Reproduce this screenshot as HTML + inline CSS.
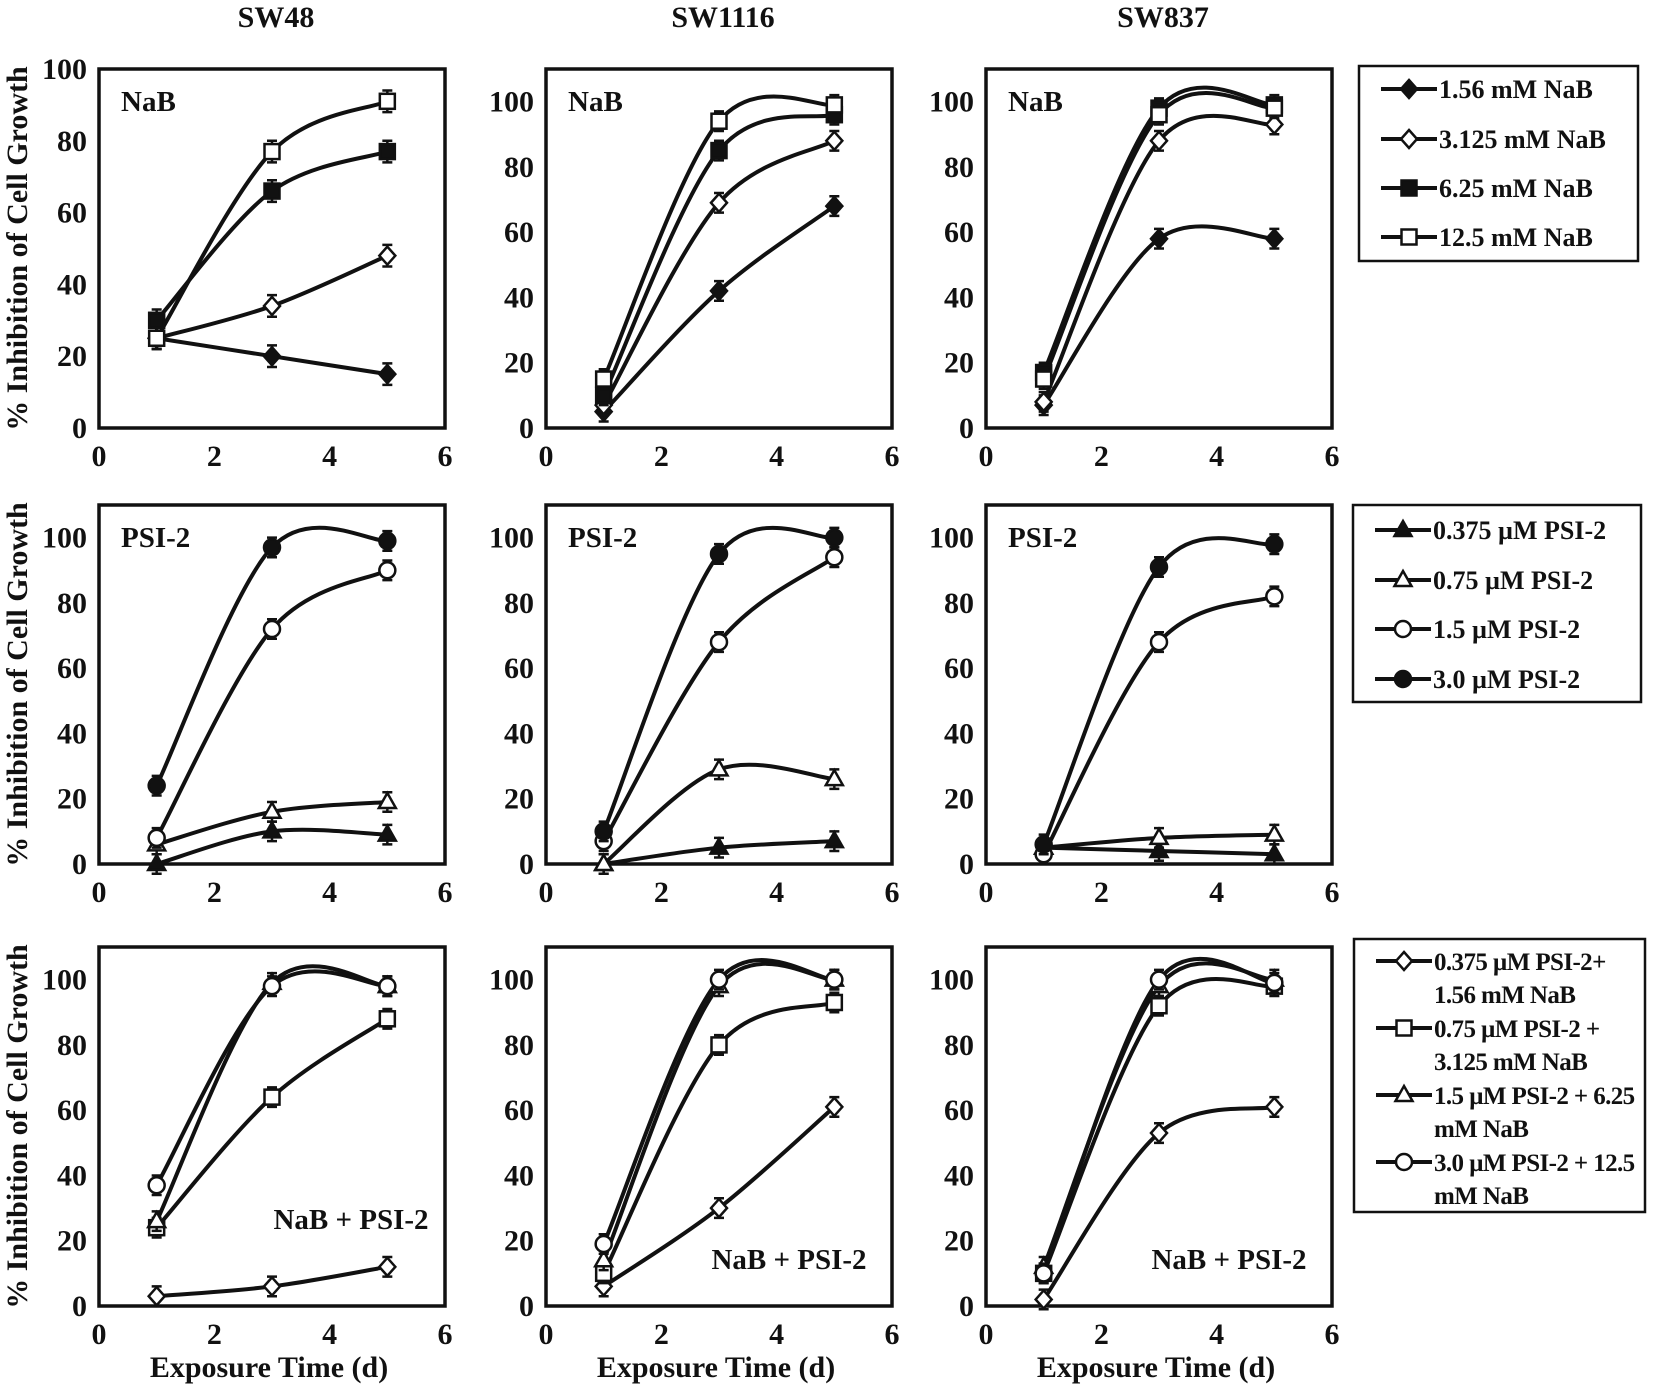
<!DOCTYPE html>
<html><head><meta charset="utf-8"><style>
body{margin:0;background:#fff}
svg text{font-family:"Liberation Serif",serif;font-weight:bold;fill:#111}
</style></head><body>
<svg id="fig" width="1654" height="1387" viewBox="0 0 1654 1387" xmlns="http://www.w3.org/2000/svg"></svg>
<script>
const days = [1, 3, 5];
const xTicks = [0, 2, 4, 6];
const yTicks = [0, 20, 40, 60, 80, 100];
const cellLines = ["SW48", "SW1116", "SW837"];
const nabLabels = ["1.56 mM NaB", "3.125 mM NaB", "6.25 mM NaB", "12.5 mM NaB"];
const psiLabels = ["0.375 µM PSI-2", "0.75 µM PSI-2", "1.5 µM PSI-2", "3.0 µM PSI-2"];
const comboLabels = [["0.375 µM PSI-2+", "1.56 mM NaB"], ["0.75 µM PSI-2 +", "3.125 mM NaB"], ["1.5 µM PSI-2 + 6.25", "mM NaB"], ["3.0 µM PSI-2 + 12.5", "mM NaB"]];
// NaB row
const sw48Nab = [[25, 20, 15], [25, 34, 48], [30, 66, 77], [25, 77, 91]];
const sw1116Nab = [[5, 42, 68], [7, 69, 88], [10, 85, 96], [15, 94, 99]];
const sw837Nab = [[7, 58, 58], [8, 88, 93], [17, 98, 99], [15, 96, 98]];
// PSI-2 row
const sw48Psi = [[0, 10, 9], [6, 16, 19], [8, 72, 90], [24, 97, 99]];
const sw1116Psi = [[0, 5, 7], [0, 29, 26], [7, 68, 94], [10, 95, 100]];
const sw837Psi = [[5, 4, 3], [5, 8, 9], [3, 68, 82], [6, 91, 98]];
// Combination row
const sw48Combo = [[3, 6, 12], [24, 64, 88], [26, 99, 98], [37, 98, 98]];
const sw1116Combo = [[6, 30, 61], [10, 80, 93], [14, 98, 100], [19, 100, 100]];
const sw837Combo = [[2, 53, 61], [10, 92, 98], [12, 98, 100], [10, 100, 99]];
const yMaxes = [[100, 110, 110], [110, 110, 110], [110, 110, 110]];

const NS = "http://www.w3.org/2000/svg";
const svg = document.getElementById("fig");
function mk(tag, attrs, parent) {
  const e = document.createElementNS(NS, tag);
  for (const k in attrs) e.setAttribute(k, attrs[k]);
  (parent || svg).appendChild(e);
  return e;
}
function txt(s, x, y, size, anchor, parent) {
  const t = mk("text", {x: x, y: y, "font-size": size, "text-anchor": anchor || "start"}, parent);
  t.textContent = s;
  return t;
}
const colL = [99, 546, 986], W = 346;
const rowT = [69, 505, 947], H = 359;
const rowData = [[sw48Nab, sw1116Nab, sw837Nab], [sw48Psi, sw1116Psi, sw837Psi], [sw48Combo, sw1116Combo, sw837Combo]];
const rowMarkers = [["dF", "dO", "sF", "sO"], ["tF", "tO", "cO", "cF"], ["dO", "sO", "tO", "cO"]];

function marker(kind, x, y, g) {
  const fill = kind[1] === "F" ? "#111" : "#fff";
  const st = {fill: fill, stroke: "#111", "stroke-width": 2.5};
  let m;
  if (kind[0] === "d") m = mk("polygon", Object.assign({points: `${x},${y-9} ${x+8},${y} ${x},${y+9} ${x-8},${y}`}, st), g);
  else if (kind[0] === "s") m = mk("rect", Object.assign({x: x-7.5, y: y-7.5, width: 15, height: 15}, st), g);
  else if (kind[0] === "t") m = mk("polygon", Object.assign({points: `${x},${y-9} ${x+8.5},${y+6} ${x-8.5},${y+6}`}, st), g);
  else m = mk("circle", Object.assign({cx: x, cy: y, r: 8}, st), g);
  return m;
}
function smoothPath(pts) {
  let d = `M${pts[0][0]},${pts[0][1]}`;
  for (let i = 0; i < pts.length - 1; i++) {
    const p0 = pts[i - 1] || pts[i], p1 = pts[i], p2 = pts[i + 1], p3 = pts[i + 2] || pts[i + 1];
    const c1 = [p1[0] + (p2[0] - p0[0]) / 6, p1[1] + (p2[1] - p0[1]) / 6];
    const c2 = [p2[0] - (p3[0] - p1[0]) / 6, p2[1] - (p3[1] - p1[1]) / 6];
    d += ` C${c1[0]},${c1[1]} ${c2[0]},${c2[1]} ${p2[0]},${p2[1]}`;
  }
  return d;
}

cellLines.forEach((c, i) => {
  const t = txt(c, colL[i] + W / 2 + 4, 27, 30, "middle");
  
  
});

for (let r = 0; r < 3; r++) {
  const cy = rowT[r] + H / 2;
  const yt = txt("% Inhibition of Cell Growth", 0, 0, 30, "middle");
  yt.setAttribute("transform", `translate(27,${cy}) rotate(-90)`);
  
  
  for (let c = 0; c < 3; c++) {
    const g = mk("g", {});
    
    
    const L = colL[c], T = rowT[r], yMax = yMaxes[r][c];
    const sx = v => L + v / 6 * W;
    const sy = v => T + H - v / yMax * H;
    mk("rect", {x: L, y: T, width: W, height: H, fill: "none", stroke: "#111", "stroke-width": 3.5}, g);
    yTicks.forEach(v => {
      const t = txt(String(v), L - 12, sy(v) + 10, 30, "end", g);
      
      
    });
    xTicks.forEach(v => {
      const t = txt(String(v), sx(v), T + H + 38, 30, "middle", g);
      
      
    });
    if (r < 2) {
      const lab = txt(r === 0 ? "NaB" : "PSI-2", L + 22, T + 42, 29, "start", g);
      
      
    } else {
      const lab = txt("NaB + PSI-2", c === 0 ? L + 252 : L + 243, c === 0 ? T + 282 : T + 322, 29, "middle", g);
      
      
    }
    const series = rowData[r][c];
    series.forEach((vals, si) => {
      const pts = vals.map((v, i) => [sx(days[i]), sy(v)]);
      const p = mk("path", {d: smoothPath(pts), fill: "none", stroke: "#111", "stroke-width": 4}, g);
      
      
    });
    series.forEach((vals, si) => {
      vals.forEach((v, i) => {
        const x = sx(days[i]), y = sy(v), e = 3 / yMax * H;
        const eb = mk("path", {d: `M${x},${y-e}V${y+e}M${x-5},${y-e}H${x+5}M${x-5},${y+e}H${x+5}`, stroke: "#111", "stroke-width": 2.5, fill: "none"}, g);
        
        
        const m = marker(rowMarkers[r][si], x, y, g);
        
        
      });
    });
  }
}
colL.forEach((L, i) => {
  const t = txt("Exposure Time (d)", L + W / 2 - 3, 1377, 30, "middle");
  
  
});

function legend(x, y, w, h, rows, labels, kinds, lineGap, name, fs) {
  const g = mk("g", {});
  
  
  mk("rect", {x: x, y: y, width: w, height: h, fill: "#fff", stroke: "#111", "stroke-width": 2.5}, g);
  rows.forEach((ry, i) => {
    const e = mk("g", {}, g);
    
    
    mk("line", {x1: x + 22, y1: ry, x2: x + 78, y2: ry, stroke: "#111", "stroke-width": 4}, e);
    marker(kinds[i], x + 50, ry, e);
    const lab = labels[i];
    if (Array.isArray(lab)) {
      const a = txt(lab[0], x + 80, ry + 9, fs, "start", e);
      a.setAttribute("letter-spacing", "-0.6");
      const b = txt(lab[1], x + 80, ry + 9 + lineGap, fs, "start", e);
      b.setAttribute("letter-spacing", "-0.6");
    } else txt(lab, x + 80, ry + 9, fs, "start", e);
  });
}
legend(1359, 66, 279, 195, [89, 139, 188, 237], nabLabels, rowMarkers[0], 0, "legend-nab", 26);
legend(1353, 505, 288, 197, [530, 580, 629, 679], psiLabels, ["tF", "tO", "cO", "cF"], 0, "legend-psi2", 26);
legend(1354, 939, 291, 273, [961, 1028, 1095, 1162], comboLabels, rowMarkers[2], 33, "legend-combination", 25);
</script>
</body></html>
